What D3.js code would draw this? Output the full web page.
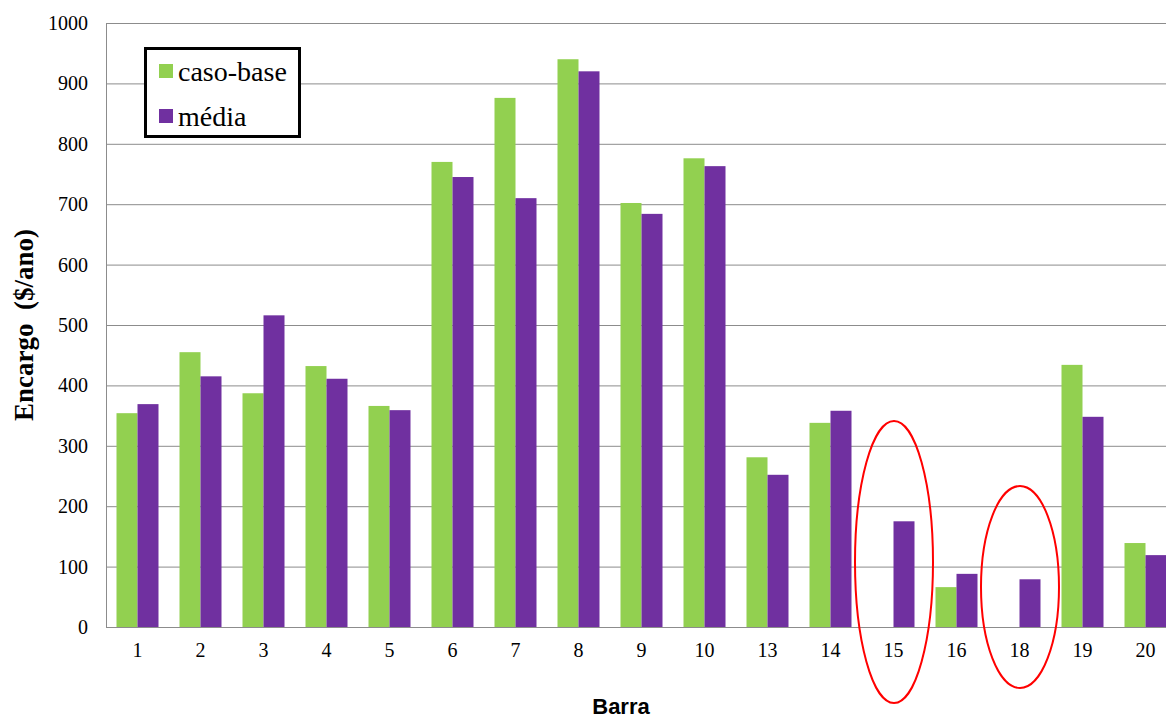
<!DOCTYPE html>
<html><head><meta charset="utf-8">
<script src="https://cdn.jsdelivr.net/npm/d3@7"></script>
<style>body{margin:0;background:#fff}svg{display:block}
.serif{font-family:"Liberation Serif","Times New Roman",Times,serif}
.sans{font-family:"Liberation Sans",Arial,Helvetica,sans-serif}
</style>
</head><body>
<svg id="c" width="1166" height="718"></svg>
<script>
const categories = ["1","2","3","4","5","6","7","8","9","10","13","14","15","16","18","19","20"];
const casoBase = [354,455,387,432,366,770,876,940,702,776,281,338,0,66,0,434,139];
const media    = [369,415,516,411,359,745,710,920,684,763,252,358,175,88,79,348,119];
const yTicks = [0,100,200,300,400,500,600,700,800,900,1000];
const seriesNames = ["caso-base","média"];
const colors = ["#92D050","#7030A0"];

(function(){
const svg = d3.select("#c");
const pL = 106, pT = 23, pB = 627, pR = 106 + 17*63;
const x = d3.scaleBand().domain(categories).range([pL, pR]).paddingInner(1/3).paddingOuter(1/6);
const xs = d3.scaleBand().domain([0,1]).range([0, x.bandwidth()]);
const y = d3.scaleLinear().domain([0,1000]).range([pB, pT]);

// grid
svg.append("g").selectAll("line").data(yTicks.slice(1)).join("line")
  .attr("x1", pL).attr("x2", 1166).attr("y1", d=>y(d)+0.5).attr("y2", d=>y(d)+0.5)
  .attr("stroke", "#8c8c8c").attr("stroke-width", 1);

// y axis
const ya = svg.append("g").attr("transform", `translate(${pL},0)`)
  .call(d3.axisLeft(y).tickValues(yTicks).tickFormat(d3.format("d")).tickSize(0).tickPadding(18));
ya.attr("font-family", null).attr("font-size", null);
ya.select(".domain").attr("stroke", "#8c8c8c");
ya.selectAll("text").attr("class","serif").style("font-size", "20px").attr("fill", "#000");

// bars
const data = categories.map((c,i)=>({c, v:[casoBase[i], media[i]]}));
const g = svg.append("g");
data.forEach(d=>{
  d.v.forEach((v,k)=>{
    if (v<=0) return;
    g.append("rect").attr("x", x(d.c)+xs(k)).attr("width", xs.bandwidth())
      .attr("y", y(v)).attr("height", y(0)-y(v)).attr("fill", colors[k]);
  });
});

// x axis
const xa = svg.append("g").attr("transform", `translate(0,${pB})`)
  .call(d3.axisBottom(x).tickSize(0).tickPadding(16));
xa.attr("font-family", null).attr("font-size", null);
xa.select(".domain").attr("stroke", "#8c8c8c").attr("d", `M${pL},0.5H1166`);
xa.selectAll("text").attr("class","serif").style("font-size", "20px").attr("fill", "#000");

// ellipses
const ell = [{c:"15", y0:562, ry:141},{c:"18", y0:587, ry:101}];
ell.forEach(e=>{
  svg.append("ellipse").attr("cx", x(e.c)+x.bandwidth()/2+0.5).attr("cy", e.y0)
    .attr("rx", 39).attr("ry", e.ry).attr("fill","none").attr("stroke","#ff0000").attr("stroke-width",2);
});

// titles
svg.append("text").attr("transform", `translate(33,${(pT+pB)/2}) rotate(-90)`)
  .attr("text-anchor","middle").attr("class","serif").style("font-weight","bold")
  .style("font-size", "27px").style("white-space","pre").text("Encargo  ($/ano)");
svg.append("text").attr("x", 621).attr("y", 714).attr("text-anchor","middle")
  .attr("class","sans").style("font-weight","bold").style("font-size", "22px").text("Barra");

// legend
const lg = svg.append("g");
lg.append("rect").attr("x",145.5).attr("y",48.5).attr("width",154).attr("height",88)
  .attr("fill","#fff").attr("stroke","#000").attr("stroke-width",3);
seriesNames.forEach((n,i)=>{
  lg.append("rect").attr("x",159).attr("y",64+i*45).attr("width",14).attr("height",14).attr("fill",colors[i]);
  lg.append("text").attr("x",178).attr("y",81+i*45).attr("class","serif")
    .style("font-size","28px").attr("fill","#000").text(n);
});
})();
</script>
</body></html>
